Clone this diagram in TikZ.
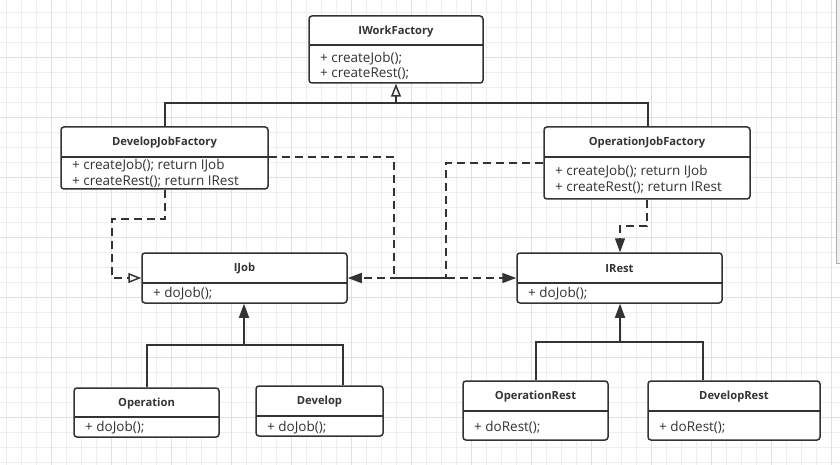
\documentclass[tikz,border=0pt]{standalone}
\usepackage{fontspec}
\setmainfont{Open Sans}
\usetikzlibrary{arrows.meta,fit,calc}
\definecolor{ink}{HTML}{333333}
\definecolor{gridminor}{HTML}{EEEEEE}
\definecolor{gridmajor}{HTML}{E0E0E0}
\tikzset{
  umlframe/.style={draw=ink, line width=1.5pt, rounded corners=3pt, fill=white, inner sep=0pt},
  titletext/.style={font=\fontsize{11.2}{13}\selectfont\bfseries, text=ink, inner sep=0pt},
  membertext/.style={font=\fontsize{13.5}{15.7}\selectfont, text=ink, align=left, anchor=north west, inner sep=0pt},
  conn/.style={draw=ink, line width=1.5pt},
  depend/.style={conn, dash pattern=on 8pt off 5pt},
  hollowtip/.style={-{Triangle[open,length=13pt,width=10pt,line width=1.5pt]}},
  solidtip/.style={-{Triangle[length=14pt,width=10pt]}},
}
% name, x1, y1, x2, y2, ydiv, title, members, offset of first member line centre below divider
\newcommand\umlbox[9]{%
  \coordinate (#1-nw) at (#2,#3);
  \coordinate (#1-se) at (#4,#5);
  \node[umlframe, fit=(#1-nw)(#1-se)] (#1) {};
  \draw[ink, line width=1.5pt] (#2,#6) -- (#4,#6);
  \node[titletext] (#1-title) at ({(#2+#4)/2},{(#3+#6)/2+0.8}) {#7};
  \node[membertext] (#1-members) at (#2+11,#6+#9-6) {#8};
}
\begin{document}
\begin{tikzpicture}[x=1pt,y=-1pt]
\useasboundingbox (0,0) rectangle (840,465);
\fill[white] (0,0) rectangle (840,465);
% grid
\foreach \k in {0,...,55} {
  \pgfmathsetmacro{\gx}{6+15*\k}
  \draw[gridminor, line width=0.8pt] (\gx,0) -- (\gx,465);
}
\foreach \k in {0,...,30} {
  \pgfmathsetmacro{\gy}{12.7+15*\k}
  \draw[gridminor, line width=0.8pt] (0,\gy) -- (840,\gy);
}
\foreach \k in {0,...,13} {
  \pgfmathsetmacro{\gx}{51+60*\k}
  \draw[gridmajor, line width=0.8pt] (\gx,0) -- (\gx,465);
}
\foreach \k in {0,...,7} {
  \pgfmathsetmacro{\gy}{57.7+60*\k}
  \draw[gridmajor, line width=0.8pt] (0,\gy) -- (840,\gy);
}
% scrollbar edge at right
\fill[gray!12] (836.5,0) rectangle (840,263);
\draw[gray!60, line width=0.8pt] (836.5,0) -- (836.5,263) -- (840,263);

% boxes
\umlbox{iwf}{309}{16}{483}{83}{45}{IWorkFactory}{+ createJob();\\+ createRest();}{12.7}
\umlbox{djf}{61}{127}{268}{189}{157}{DevelopJobFactory}{+ createJob(); return IJob\\+ createRest(); return IRest}{8.3}
\umlbox{ojf}{544}{127}{750}{199}{157}{OperationJobFactory}{+ createJob(); return IJob\\+ createRest(); return IRest}{14}
\umlbox{ijob}{142}{253}{347}{303}{283}{IJob}{+ doJob();}{10}
\umlbox{irest}{517}{253}{722}{303}{283}{IRest}{+ doJob();}{10}
\umlbox{op}{74}{388}{219}{437}{417}{Operation}{+ doJob();}{10}
\umlbox{dev}{256}{386}{383}{436}{416}{Develop}{+ doJob();}{10.7}
\umlbox{opr}{463}{381}{608}{440}{411}{OperationRest}{+ doRest();}{16}
\umlbox{devr}{648}{381}{820}{440}{411}{DevelopRest}{+ doRest();}{16}

% generalization to IWorkFactory
\coordinate (topbus) at (396,103);
\draw[conn] (djf.north -| 165,0) -- (165,103) -- (648,103) -- (ojf.north -| 648,0);
\draw[conn, hollowtip] (topbus) -- (iwf.south -| topbus);

% inheritance to IJob
\coordinate (jobbus) at (244,345);
\draw[conn] (op.north -| 147,0) -- (147,345) -- (343,345) -- (dev.north -| 343,0);
\draw[conn, solidtip] (jobbus) -- (ijob.south -| jobbus);

% inheritance to IRest
\coordinate (restbus) at (620,342);
\draw[conn] (opr.north -| 536,0) -- (536,342) -- (703,342) -- (devr.north -| 703,0);
\draw[conn, solidtip] (restbus) -- (irest.south -| restbus);

% dependencies
\draw[depend, hollowtip] (djf.south -| 165,0) -- (165,219) -- (112,219) -- (112,278) -- (ijob.west |- 0,278);
\draw[depend, solidtip] (djf.east |- 0,157) -- (394,157) -- (394,278) -- (irest.west |- 0,278);
\draw[depend, solidtip] (ojf.west |- 0,163) -- (446,163) -- (446,278) -- (ijob.east |- 0,278);
\draw[depend, solidtip] (ojf.south -| 647,0) -- (647,226) -- (620,226) -- (irest.north -| 620,0);
\end{tikzpicture}
\end{document}
